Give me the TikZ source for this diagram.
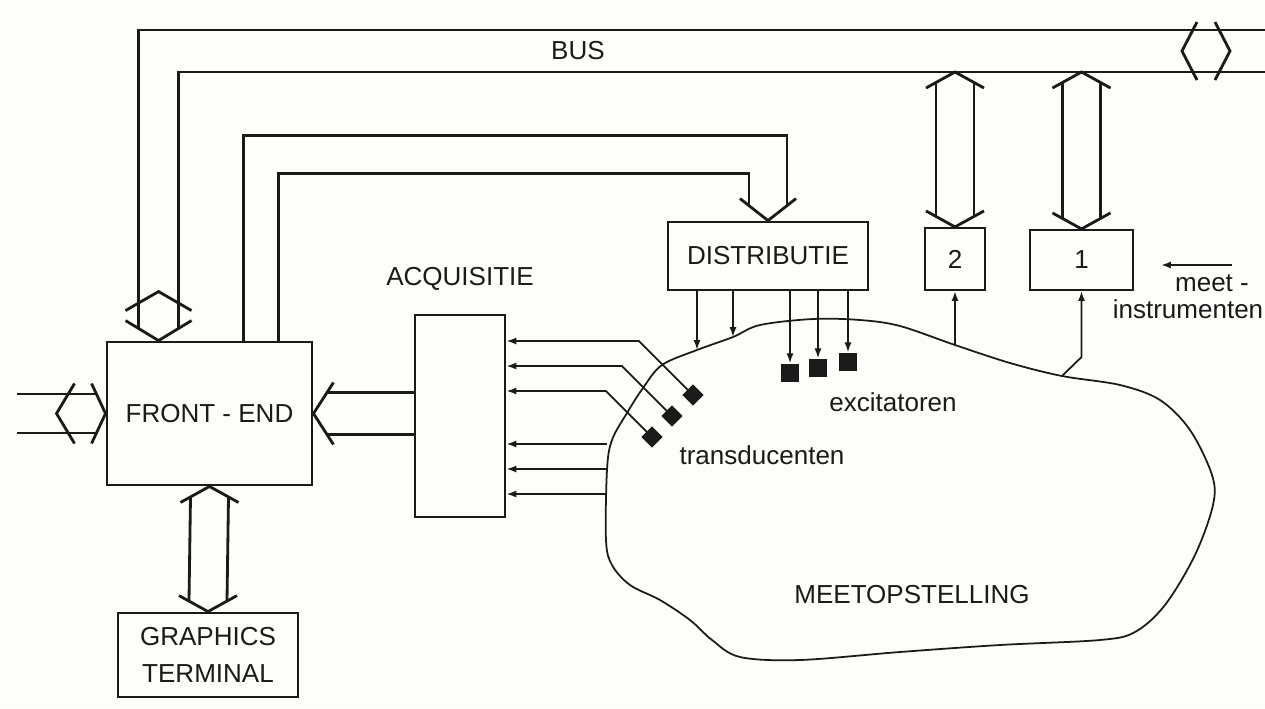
\documentclass[tikz,border=0pt]{standalone}
\usepackage{fontspec}
\setmainfont{Liberation Sans}
\usetikzlibrary{positioning, calc, arrows.meta}
\definecolor{ink}{HTML}{1A1A1A}
\definecolor{paper}{HTML}{FDFDFA}
\newcommand{\LabelF}{\fontsize{7.4}{9}\selectfont}
% wide two-way link: top tip #1, bottom tip #2
\newcommand{\dblarrow}[2]{%
  \draw[bus] ($(#1)+(-29,16)$) -- (#1) -- ($(#1)+(29,16)$);
  \draw[bus] ($(#2)+(-29,-16)$) -- (#2) -- ($(#2)+(29,-16)$);
  \draw[bus] ($(#1)+(-19,10.5)$) -- ($(#2)+(-19,-10.5)$);
  \draw[bus] ($(#1)+(19,10.5)$) -- ($(#2)+(19,-10.5)$);}

\begin{document}
\begin{tikzpicture}[x=0.01cm, y=-0.01cm,
    box/.style={draw=ink, line width=0.8pt, inner sep=0pt, font=\LabelF, text=ink},
    bus/.style={draw=ink, line width=0.8pt, line join=miter},
    sarrow/.style={draw=ink, line width=0.5pt, -{Latex[length=2.8pt,width=2pt]}},
    outline/.style={draw=ink, line width=0.5pt},
    lbl/.style={font=\LabelF, text=ink, inner sep=0pt},
    exc/.style={fill=ink, minimum size=0.18cm, inner sep=0pt},
    trans/.style={fill=ink, minimum size=0.15cm, inner sep=0pt, rotate=45}]
  \fill[paper] (0,0) rectangle (1265,708);
  \useasboundingbox (0,0) rectangle (1265,708);

  % blocks
  \node[box, minimum width=2.05cm, minimum height=1.43cm] (fe) at (209.5,413.5) {FRONT - END};
  \node[box, minimum width=1.80cm, minimum height=0.84cm, align=center] (gt) at (208,655)
    {GRAPHICS\\[1.5pt]TERMINAL};
  \node[box, minimum width=0.90cm, minimum height=2.02cm] (acq) at (460,416) {};
  \node[lbl, above=0.22cm of acq] (acqlbl) {ACQUISITIE};
  \node[box, minimum width=2.00cm, minimum height=0.68cm] (dist) at (768,256) {DISTRIBUTIE};
  \node[box, line width=0.6pt, minimum width=0.60cm, minimum height=0.62cm] (inst2) at (955,259) {2};
  \node[box, line width=0.6pt, minimum width=1.03cm, minimum height=0.60cm] (inst1) at (1081.5,260) {1};

  % bus
  \coordinate (bj) at ($(fe.north west)+(53,0)$);
  \coordinate (bx) at (1207,51);
  \draw[bus] ($(bj)+(-20,-12)$) |- (1265,30);
  \draw[bus] ($(bj)+(20,-12)$) |- (1265,72);
  \draw[bus] ($(bj)+(-33,-30)$) -- ($(bj)+(0,-49)$) -- ($(bj)+(33,-30)$);
  \draw[bus] ($(bj)+(-33,-20)$) -- (bj) -- ($(bj)+(33,-20)$);
  \draw[bus] ($(bx)+(-10,-29)$) -- ($(bx)+(-25,0)$) -- ($(bx)+(-10,29)$);
  \draw[bus] ($(bx)+(8,-29)$) -- ($(bx)+(23,0)$) -- ($(bx)+(8,29)$);
  \coordinate (busR2) at (bx |- 0,72);
  \node[lbl] (buslbl) at (578,51) {BUS};

  % outside link of the front-end
  \draw[bus] ($(fe.west)+(-31,-30)$) -- ($(fe.west)+(-49,0)$) -- ($(fe.west)+(-31,30)$);
  \draw[bus] ($(fe.west)+(-14,-30)$) -- (fe.west) -- ($(fe.west)+(-14,30)$);
  \draw[bus] ($(fe.west)+(-9,-19.5)$) -- ++(-80,0);
  \draw[bus] ($(fe.west)+(-9,19.5)$) -- ++(-80,0);

  % front-end to distributie
  \draw[bus] ($(fe.north west)+(138,0)$) -- ++(0,-205) -| ($(dist.north)+(19,-15)$);
  \draw[bus] ($(fe.north west)+(173,0)$) -- ++(0,-167) -| ($(dist.north)+(-19,-15)$);
  \draw[bus] ($(dist.north)+(-28,-22)$) -- (dist.north) -- ($(dist.north)+(28,-22)$);

  % acquisitie to front-end
  \draw[bus] ($(fe.east)+(20,-31)$) -- (fe.east) -- ($(fe.east)+(20,31)$);
  \draw[bus] ($(fe.east)+(14,-21)$) -- ($(fe.east -| acq.west)+(0,-21)$);
  \draw[bus] ($(fe.east)+(14,21)$) -- ($(fe.east -| acq.west)+(0,21)$);

  % two-way links
  \dblarrow{fe.south}{gt.north}
  \coordinate (t2) at (inst2.north |- busR2);
  \coordinate (t1) at (inst1.north |- busR2);
  \dblarrow{t2}{inst2.north}
  \dblarrow{t1}{inst1.north}

  % set-up
  \draw[outline] plot[smooth cycle, tension=0.55] coordinates {
    (606,540) (607,470) (612,440) (627,413) (643,388) (662,365) (697,350)
    (733,337) (760,325) (813,319) (860,320) (900,326) (955,345) (1010,363)
    (1062,376) (1120,385) (1160,400) (1190,430) (1212,475) (1213,505)
    (1195,555) (1165,605) (1135,632) (1100,640) (1000,645) (900,652)
    (800,660) (740,657) (712,640) (690,620) (660,600) (630,585) (612,565)};
  \node[lbl] (meet) at (912,595) {MEETOPSTELLING};

  % excitatoren
  \node[exc] (exc1) at (790,373) {};
  \node[exc] (exc2) at (818,368) {};
  \node[exc] (exc3) at (848,362) {};
  \foreach \e in {exc1,exc2,exc3}
    \draw[sarrow] (\e |- dist.south) -- (\e.north);
  \coordinate (e1) at (697,350);
  \coordinate (e2) at (733,337);
  \foreach \e in {e1,e2}
    \draw[sarrow] (\e |- dist.south) -- (\e);
  \node[lbl] (exclbl) at (893,402) {excitatoren};

  % transducenten
  \node[trans] (tr1) at (693,395) {};
  \node[trans] (tr2) at (672,416) {};
  \node[trans] (tr3) at (652,437) {};
  \draw[sarrow, shorten <=2pt] (tr1.center) -- ++(-54,-54) coordinate (k1) -- (k1 -| acq.east);
  \draw[sarrow, shorten <=2pt] (tr2.center) -- ++(-50,-50) coordinate (k2) -- (k2 -| acq.east);
  \draw[sarrow, shorten <=2pt] (tr3.center) -- ++(-46,-46) coordinate (k3) -- (k3 -| acq.east);
  \foreach \i/\y in {1/444,2/469,3/494} {
    \coordinate (m\i) at (607,\y);
    \draw[sarrow] (m\i) -- (m\i -| acq.east);
  }
  \node[lbl] (trlbl) at (762,455) {transducenten};

  % meetinstrumenten
  \coordinate (s2) at (955,345);
  \coordinate (s1) at (1062,376);
  \draw[sarrow] (s2) -- (inst2.south);
  \draw[sarrow] (s1) -- ($(inst1.south)+(0,66)$) -- (inst1.south);
  \coordinate (mi) at (1232,265);
  \draw[sarrow] (mi) -- ($(inst1.east |- mi)+(27,0)$);
  \node[lbl] (meetlbl) at (1212,283) {meet -};
  \node[lbl] (instlbl) at (1188,309) {instrumenten};
\end{tikzpicture}
\end{document}
